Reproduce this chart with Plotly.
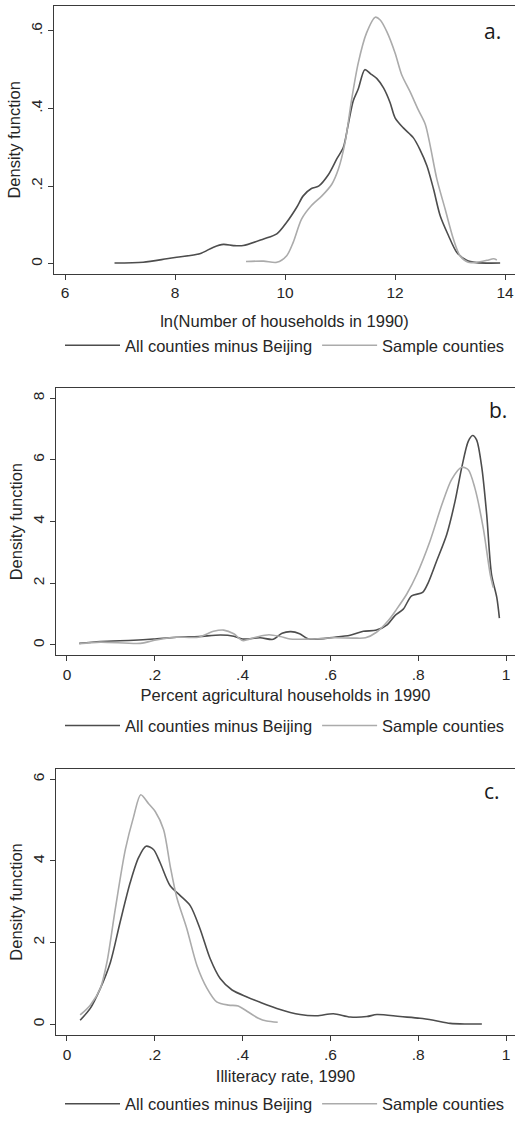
import plotly.graph_objects as go

# ---------------- data ----------------
# Panel a: ln(Number of households in 1990)
a_all_x = [6.90, 7.42, 7.85, 8.03, 8.45, 8.70, 8.88, 9.06, 9.24, 9.61, 9.85, 10.03, 10.21, 10.33, 10.48,
           10.61, 10.79, 10.94, 11.06, 11.15, 11.24, 11.33, 11.45, 11.55, 11.67, 11.79, 11.91, 12.00,
           12.15, 12.33, 12.45, 12.58, 12.70, 12.82, 12.97, 13.12, 13.30, 13.48, 13.91]
a_all_y = [0.002, 0.004, 0.013, 0.017, 0.026, 0.043, 0.050, 0.047, 0.047, 0.064, 0.077, 0.107, 0.145,
           0.175, 0.194, 0.200, 0.230, 0.270, 0.300, 0.360, 0.420, 0.450, 0.500, 0.490, 0.477, 0.453,
           0.415, 0.376, 0.350, 0.325, 0.295, 0.252, 0.192, 0.124, 0.073, 0.030, 0.009, 0.003, 0.002]
a_smp_x = [9.29, 9.61, 9.85, 10.03, 10.15, 10.30, 10.48, 10.67, 10.85, 10.97, 11.09, 11.21, 11.33, 11.48,
           11.64, 11.73, 11.85, 12.00, 12.12, 12.27, 12.42, 12.55, 12.64, 12.76, 12.91, 13.06, 13.18,
           13.33, 13.48, 13.67, 13.79, 13.85]
a_smp_y = [0.006, 0.007, 0.004, 0.021, 0.056, 0.115, 0.150, 0.175, 0.205, 0.244, 0.312, 0.423, 0.517,
           0.594, 0.635, 0.628, 0.598, 0.543, 0.487, 0.444, 0.397, 0.359, 0.303, 0.218, 0.141, 0.064,
           0.021, 0.004, 0.004, 0.009, 0.013, 0.010]

# Panel b: Percent agricultural households in 1990
b_all_x = [0.028, 0.076, 0.152, 0.197, 0.25, 0.30, 0.35, 0.38, 0.40, 0.44, 0.47, 0.49, 0.51, 0.53, 0.55,
           0.61, 0.645, 0.675, 0.705, 0.73, 0.747, 0.766, 0.785, 0.81, 0.823, 0.842, 0.865, 0.884,
           0.899, 0.914, 0.924, 0.933, 0.945, 0.956, 0.967, 0.979, 0.985]
b_all_y = [0.05, 0.11, 0.15, 0.19, 0.25, 0.27, 0.32, 0.28, 0.19, 0.23, 0.18, 0.38, 0.43, 0.36, 0.19,
           0.25, 0.31, 0.44, 0.48, 0.66, 0.95, 1.16, 1.59, 1.70, 2.02, 2.72, 3.58, 4.66,
           5.74, 6.60, 6.79, 6.65, 5.74, 4.23, 2.29, 1.54, 0.87]
b_smp_x = [0.028, 0.076, 0.167, 0.197, 0.243, 0.30, 0.334, 0.357, 0.38, 0.40, 0.43, 0.46, 0.486, 0.508,
           0.554, 0.607, 0.653, 0.68, 0.705, 0.732, 0.751, 0.774, 0.797, 0.827, 0.854, 0.876, 0.899,
           0.914, 0.929, 0.948, 0.964, 0.971]
b_smp_y = [0.04, 0.09, 0.05, 0.14, 0.25, 0.25, 0.44, 0.48, 0.36, 0.14, 0.25, 0.33, 0.27, 0.19,
           0.19, 0.23, 0.22, 0.23, 0.41, 0.79, 1.16, 1.65, 2.29, 3.37, 4.55, 5.36, 5.76,
           5.68, 5.09, 3.80, 2.29, 1.86]

# Panel c: Illiteracy rate, 1990
c_all_x = [0.030, 0.053, 0.076, 0.099, 0.121, 0.144, 0.163, 0.180, 0.197, 0.212, 0.235, 0.258, 0.281,
           0.303, 0.326, 0.349, 0.376, 0.41, 0.44, 0.478, 0.531, 0.569, 0.607, 0.645, 0.683, 0.706,
           0.759, 0.804, 0.835, 0.873, 0.91, 0.945]
c_all_y = [0.10, 0.39, 0.88, 1.52, 2.50, 3.47, 4.08, 4.36, 4.28, 3.96, 3.39, 3.15, 2.90,
           2.34, 1.61, 1.12, 0.84, 0.67, 0.54, 0.39, 0.24, 0.21, 0.26, 0.18, 0.19, 0.24,
           0.19, 0.15, 0.10, 0.024, 0.008, 0.008]
c_smp_x = [0.030, 0.053, 0.076, 0.091, 0.110, 0.133, 0.152, 0.168, 0.186, 0.201, 0.220, 0.235, 0.250,
           0.273, 0.296, 0.319, 0.341, 0.368, 0.390, 0.410, 0.436, 0.455, 0.480]
c_smp_y = [0.23, 0.47, 0.88, 1.52, 2.82, 4.28, 5.09, 5.62, 5.40, 5.21, 4.77, 3.88, 3.11,
           2.34, 1.44, 0.88, 0.55, 0.47, 0.45, 0.32, 0.15, 0.08, 0.05]

series_names = ["All counties minus Beijing", "Sample counties"]
panel_labels = ["a.", "b.", "c."]
x_titles = ["ln(Number of households in 1990)", "Percent agricultural households in 1990",
            "Illiteracy rate, 1990"]
y_title = "Density function"
a_xticks = [6, 8, 10, 12, 14]
a_xtick_text = ["6", "8", "10", "12", "14"]
a_yticks = [0, 0.2, 0.4, 0.6]
a_ytick_text = ["0", ".2", ".4", ".6"]
bc_xticks = [0, 0.2, 0.4, 0.6, 0.8, 1]
bc_xtick_text = ["0", ".2", ".4", ".6", ".8", "1"]
b_yticks = [0, 2, 4, 6, 8]
c_yticks = [0, 2, 4, 6]

# ---------------- styling ----------------
W, H = 515, 1122
DARK = "#4d4d4d"
LIGHT = "#ababab"
AXC = "#3a3a3a"
TXT = "#262626"
FONT = "Liberation Sans, Arial, sans-serif"
TICKFS = 15.5
TITLEFS = 16.5

def py(px):
    return 1 - px / H

fig = go.Figure()

panels = [
    dict(ax="", allx=a_all_x, ally=a_all_y, smpx=a_smp_x, smpy=a_smp_y, legend="legend"),
    dict(ax="2", allx=b_all_x, ally=b_all_y, smpx=b_smp_x, smpy=b_smp_y, legend="legend2"),
    dict(ax="3", allx=c_all_x, ally=c_all_y, smpx=c_smp_x, smpy=c_smp_y, legend="legend3"),
]

for p in panels:
    fig.add_trace(go.Scatter(x=p["allx"], y=p["ally"], mode="lines", name=series_names[0],
                             line=dict(color=DARK, width=1.6, shape="spline", smoothing=0.8),
                             xaxis="x" + p["ax"], yaxis="y" + p["ax"], legend=p["legend"]))
    fig.add_trace(go.Scatter(x=p["smpx"], y=p["smpy"], mode="lines", name=series_names[1],
                             line=dict(color=LIGHT, width=1.6, shape="spline", smoothing=0.8),
                             xaxis="x" + p["ax"], yaxis="y" + p["ax"], legend=p["legend"]))

def xax(domain, rng, tickvals, ticktext, title, anchor, standoff):
    return dict(domain=domain, range=rng, tickvals=tickvals, ticktext=ticktext, anchor=anchor,
                showline=True, mirror=True, linecolor=AXC, linewidth=1.2, ticks="outside",
                ticklen=5, tickcolor=AXC, showgrid=False, zeroline=False,
                tickfont=dict(family=FONT, size=TICKFS, color=TXT),
                title=dict(text=title, font=dict(family=FONT, size=TITLEFS, color=TXT), standoff=standoff))

def yax(domain, rng, tickvals, ticktext, anchor):
    return dict(domain=domain, range=rng, tickvals=tickvals, ticktext=ticktext, anchor=anchor,
                showline=True, mirror=True, linecolor=AXC, linewidth=1.2, ticks="outside",
                ticklen=5, tickcolor=AXC, showgrid=False, zeroline=False, tickangle=-90,
                tickfont=dict(family=FONT, size=TICKFS, color=TXT),
                title=dict(text=y_title, font=dict(family=FONT, size=TITLEFS, color=TXT), standoff=2))

xa_dom = [54 / W, 1.0]
xbc_dom = [56 / W, 1.0]

fig.update_layout(
    width=W, height=H, margin=dict(l=0, r=0, t=0, b=0),
    paper_bgcolor="white", plot_bgcolor="white",
    font=dict(family=FONT, color=TXT),
    xaxis=xax(xa_dom, [5.8, 14.18], a_xticks, a_xtick_text, x_titles[0], "y", 14),
    yaxis=yax([py(275), py(6)], [-0.0256, 0.664], a_yticks, a_ytick_text, "x"),
    xaxis2=xax(xbc_dom, [-0.025, 1.0205], bc_xticks, bc_xtick_text, x_titles[1], "y2", 7),
    yaxis2=yax([py(658), py(390)], [-0.33, 8.32], b_yticks, [str(v) for v in b_yticks], "x2"),
    xaxis3=xax(xbc_dom, [-0.025, 1.0205], bc_xticks, bc_xtick_text, x_titles[2], "y3", 8),
    yaxis3=yax([py(1040), py(772)], [-0.27, 6.26], c_yticks, [str(v) for v in c_yticks], "x3"),
    showlegend=True,
)

def leg(ypx):
    return dict(orientation="h", x=60 / W, y=py(ypx), xanchor="left", yanchor="middle",
                font=dict(family=FONT, size=TITLEFS, color=TXT), bgcolor="rgba(0,0,0,0)",
                borderwidth=0, itemwidth=55, tracegroupgap=0,
                itemclick=False, itemdoubleclick=False)

fig.update_layout(legend=leg(347), legend2=leg(729), legend3=leg(1109))

# panel letters
for lab, xp, yp in zip(panel_labels, [492, 498, 492], [31, 412, 795]):
    fig.add_annotation(text=lab, xref="paper", yref="paper", x=xp / W, y=py(yp),
                       xanchor="center", yanchor="middle", showarrow=False,
                       font=dict(family="Open Sans, sans-serif", size=21, color="#1a1a1a"))

fig.write_html("out.html")
